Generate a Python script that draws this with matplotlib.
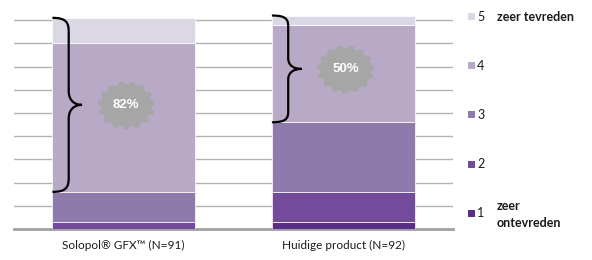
import numpy as np
import matplotlib
matplotlib.use("Agg")
import matplotlib.pyplot as plt
from matplotlib.path import Path
from matplotlib.patches import PathPatch, Rectangle

plt.rcParams['font.family'] = ['Lato', 'DejaVu Sans']

# data: counts per score (1..5) for each product
categories = ['Solopol® GFX™ (N=91)', 'Huidige product (N=92)']
scores = ['1', '2', '3', '4', '5']
counts = {
    '1': [0, 3],
    '2': [3, 13],
    '3': [13, 30],
    '4': [64, 42],
    '5': [11, 4],
}
colors = ['#5b2d87', '#744a9b', '#8f7bab', '#b8aac6', '#dcd7e4']


def gear_path(n_teeth=15, r_in=0.9, r_out=1.0, aspect=48 / 57):
    theta = np.linspace(0, 2 * np.pi, 901)
    phase = (theta * n_teeth / (2 * np.pi)) % 1.0
    r = np.where(phase < 0.5, r_out, r_in)
    verts = np.column_stack([r * np.cos(theta), r * np.sin(theta) * aspect])
    return Path(verts, closed=True)


def draw_brace(ax, x0, x1, y0, y1):
    w = x1 - x0
    h = y1 - y0
    ym = (y0 + y1) / 2
    xv = x0 + 0.55 * w
    cap = min(0.1 * h, 6)
    verts = [
        (x0, y1),
        (x0 + 0.45 * w, y1), (xv, y1 - 0.3 * cap), (xv, y1 - cap),
        (xv, ym + cap),
        (xv, ym + 0.3 * cap), (x0 + 0.75 * w, ym), (x1, ym),
        (x0 + 0.75 * w, ym), (xv, ym - 0.3 * cap), (xv, ym - cap),
        (xv, y0 + cap),
        (xv, y0 + 0.3 * cap), (x0 + 0.45 * w, y0), (x0, y0),
    ]
    codes = [Path.MOVETO,
             Path.CURVE4, Path.CURVE4, Path.CURVE4,
             Path.LINETO,
             Path.CURVE4, Path.CURVE4, Path.CURVE4,
             Path.CURVE4, Path.CURVE4, Path.CURVE4,
             Path.LINETO,
             Path.CURVE4, Path.CURVE4, Path.CURVE4]
    ax.add_patch(PathPatch(Path(verts, codes), facecolor='none',
                           edgecolor='black', lw=1.6, zorder=5))


fig = plt.figure(figsize=(5.92, 2.6), dpi=100)
ax = fig.add_axes([14 / 592, 31 / 260, 439 / 592, 229 / 260])

x = np.arange(len(categories))
width = 0.65
bottom = np.zeros(len(categories))
for s, c in zip(scores, colors):
    vals = np.array(counts[s])
    ax.bar(x, vals, width, bottom=bottom, color=c, edgecolor='white',
           linewidth=0.5, zorder=3)
    bottom += vals

ax.set_xlim(-0.5, 1.5)
ax.set_ylim(0, 98.7)
ax.set_yticks(np.arange(10, 100, 10))
ax.yaxis.grid(True, color='#b3b3b3', lw=1.0, zorder=0)
ax.tick_params(axis='y', left=False, labelleft=False)
ax.tick_params(axis='x', length=0, pad=8, labelsize=8.5, colors='#1a1a1a')
ax.set_xticks(x)
ax.set_xticklabels(categories)
for sp in ['top', 'right', 'left']:
    ax.spines[sp].set_visible(False)
ax.spines['bottom'].set_color('#a0a0a0')
ax.spines['bottom'].set_linewidth(2)

# braces and gear badges over the top-two-box
gear = gear_path()
for i in range(len(categories)):
    low = counts['1'][i] + counts['2'][i] + counts['3'][i]
    top = low + counts['4'][i] + counts['5'][i]
    left = x[i] - width / 2
    draw_brace(ax, left, left + 0.135, low, top)
    ym = (low + top) / 2
    pct = round(100 * (counts['4'][i] + counts['5'][i]) / top)
    ax.plot([x[i] + 0.01], [ym], marker=gear, markersize=41, color='#a6a6a6',
            markeredgewidth=0, zorder=6)
    ax.text(x[i] + 0.01, ym, f'{pct}%', color='white', fontsize=9.5,
            fontweight='bold', family='Liberation Sans', ha='center',
            va='center', zorder=7)

# legend
leg_y = [213, 164, 115, 66, 17]
for s, c, yp in zip(scores, colors, leg_y):
    fy = 1 - yp / 260
    fig.patches.append(Rectangle((468 / 592, fy - 3.5 / 260), 7 / 592, 7 / 260,
                                 transform=fig.transFigure, facecolor=c,
                                 edgecolor='none'))
    fig.text(477 / 592, fy, s, fontsize=9, va='center', ha='left', color='#1a1a1a')
fig.text(497 / 592, 1 - 17 / 260, 'zeer tevreden', fontsize=9, fontweight='bold',
         va='center', ha='left', color='#1a1a1a')
fig.text(497 / 592, 1 - 206 / 260, 'zeer', fontsize=9, fontweight='bold',
         va='center', ha='left', color='#1a1a1a')
fig.text(497 / 592, 1 - 223 / 260, 'ontevreden', fontsize=9, fontweight='bold',
         va='center', ha='left', color='#1a1a1a')

fig.savefig('out.png', dpi=100)
